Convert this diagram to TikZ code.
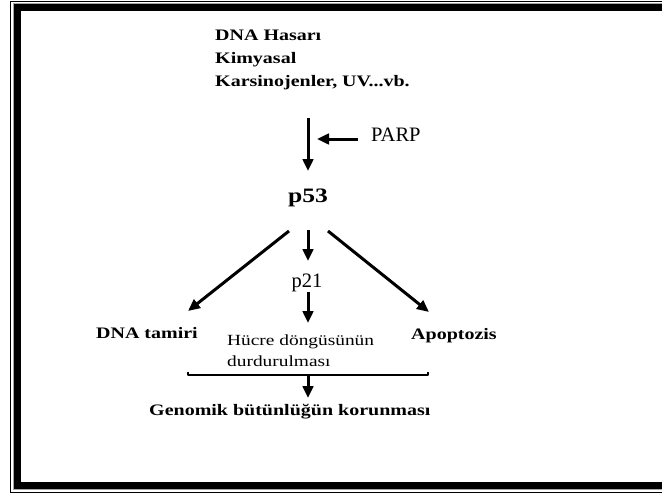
\documentclass[tikz,border=0pt]{standalone}
\usepackage{fontspec}
\setmainfont{Liberation Serif}
\newfontfamily\wideserif[FakeStretch=1.25]{Liberation Serif}
\usetikzlibrary{arrows.meta}
\tikzset{
  boldlbl/.style={inner sep=0pt, font=\wideserif\bfseries\fontsize{16}{19}\selectfont},
  thinlbl/.style={inner sep=0pt, font=\wideserif\fontsize{15.5}{18}\selectfont},
  plainlbl/.style={inner sep=0pt, font=\fontsize{20.5}{24}\selectfont},
  biglbl/.style={inner sep=0pt, font=\wideserif\bfseries\fontsize{20.5}{24}\selectfont},
  arr/.style={line width=3pt, -{Triangle[length=12pt,width=10.5pt]}},
}
\begin{document}
\begin{tikzpicture}[x=1pt,y=-1pt]
\useasboundingbox (0,0) rectangle (662,495);
\clip (0,0) rectangle (662,495);
% page frame: thin outer rule, grey hairline, heavy inner rule
\draw[line width=1.2pt] (10.6,1.6) rectangle (700,492.4);
\draw[line width=0.8pt, gray!70] (12.9,3.2) rectangle (700,489.8);
\draw[line width=7pt] (17.5,7.5) rectangle (700,485);

% trigger text
\node[boldlbl, anchor=base west] (dna)  at (215,41) {DNA Hasarı};
\node[boldlbl, anchor=base west] (kim)  at (215,64) {Kimyasal};
\node[boldlbl, anchor=base west] (kars) at (215,87) {Karsinojenler, UV...vb.};

% p53 activation
\coordinate (topS) at (308,118);
\coordinate (topE) at (308,171);
\draw[arr] (topS) -- (topE);
\node[plainlbl, anchor=base west] (parp) at (371,142) {PARP};
\coordinate (parpS) at (358,139);
\coordinate (parpE) at (317,139);
\draw[arr] (parpS) -- (parpE);

\node[biglbl, anchor=base] (p53) at (308,202) {p53};

% three outcomes
\coordinate (lS) at (289,231);
\coordinate (lE) at (188,311);
\coordinate (mS) at (308,230);
\coordinate (mE) at (308,261);
\coordinate (rS) at (328,231);
\coordinate (rE) at (429,312);
\draw[arr] (lS) -- (lE);
\draw[arr] (mS) -- (mE);
\draw[arr] (rS) -- (rE);

\node[plainlbl, anchor=base] (p21) at (307,287) {p21};
\coordinate (m2S) at (308,292);
\coordinate (m2E) at (308,323);
\draw[arr] (m2S) -- (m2E);

\node[boldlbl, anchor=base east] (tamir) at (198,338) {DNA tamiri};
\node[thinlbl, anchor=base west] (hucre) at (227,345) {Hücre döngüsünün};
\node[thinlbl, anchor=base west] (durd)  at (227,366) {durdurulması};
\node[boldlbl, anchor=base west] (apop)  at (411,339) {Apoptozis};

% joining bracket and final outcome
\coordinate (bL) at (188,375);
\coordinate (bR) at (428,375);
\coordinate (bM) at (308,375);
\draw[line width=2.6pt, line join=round] (bL) ++(0,-3) -- (bL) -- (bR) -- ++(0,-3);
\coordinate (gE) at (308,398);
\draw[arr] (bM) -- (gE);
\node[boldlbl, anchor=base west] (genom) at (149,415) {Genomik bütünlüğün korunması};
\end{tikzpicture}
\end{document}
